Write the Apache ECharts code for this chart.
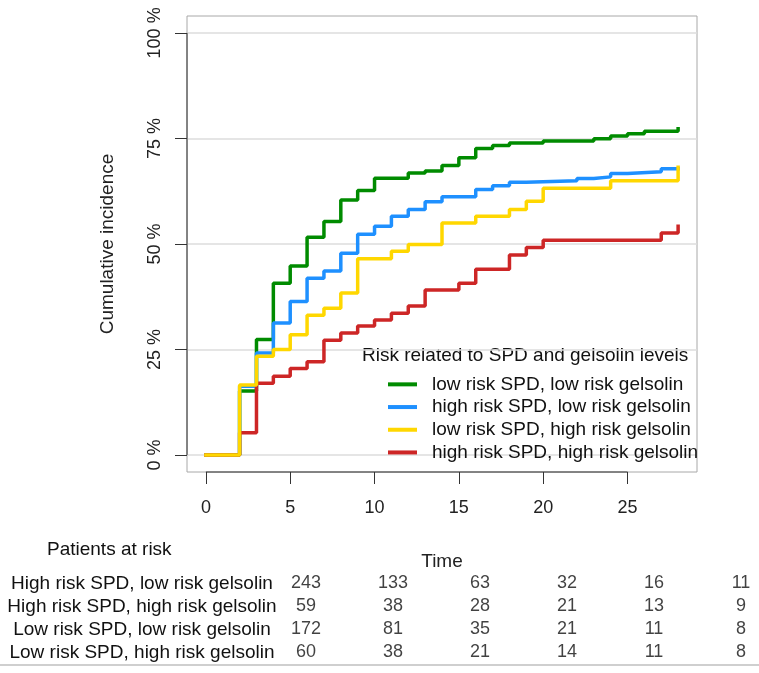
<!DOCTYPE html>
<html><head><meta charset="utf-8">
<script src="https://cdn.jsdelivr.net/npm/echarts@6/dist/echarts.min.js"></script>
<style>html,body{margin:0;padding:0;background:#fff}#c{width:759px;height:673px}</style>
</head><body><div id="c"></div>
<script>
// ---------- data ----------
const xTicks = [0, 5, 10, 15, 20, 25];
const yTicks = [0, 25, 50, 75, 100];
const xMin = -1.12, xMax = 29.12, yMin = -4, yMax = 104;

const seriesNames = [
  'low risk SPD, low risk gelsolin',
  'high risk SPD, low risk gelsolin',
  'low risk SPD, high risk gelsolin',
  'high risk SPD, high risk gelsolin'
];
const seriesColors = ['#008B00', '#1E90FF', '#FFD700', '#CD2626'];

const greenTimes  = [0, 2, 3, 4, 5, 6, 7, 8, 9, 10, 12, 13, 14, 15, 16, 17, 18, 20, 23, 24, 25, 26, 28];
const greenValues = [0, 15.2, 27.4, 40.7, 44.8, 51.6, 55.3, 60.4, 62.7, 65.6, 66.8, 67.3, 68.6, 70.4, 72.6, 73.3, 73.9, 74.4, 74.9, 75.6, 76.1, 76.7, 77.3];

const blueTimes  = [0, 2, 3, 4, 5, 6, 7, 8, 9, 10, 11, 12, 13, 14, 16, 17, 18, 19, 22, 23, 24, 25, 27, 28];
const blueValues = [0, 16.3, 24.2, 31.3, 36.4, 41.9, 43.6, 47.8, 52.3, 54.2, 56.6, 58.2, 60.0, 61.2, 62.9, 63.8, 64.6, 65.0, 65.5, 65.9, 66.7, 67.1, 67.8, 67.8];

const yellowTimes  = [0, 2, 3, 4, 5, 6, 7, 8, 9, 11, 12, 14, 16, 18, 19, 20, 24, 28];
const yellowValues = [0, 16.6, 23.4, 25.0, 28.5, 33.1, 34.8, 38.4, 46.5, 48.3, 49.9, 55.0, 56.6, 58.2, 60.1, 63.2, 65.0, 68.2];

const redTimes  = [0, 2, 3, 4, 5, 6, 7, 8, 9, 10, 11, 12, 13, 15, 16, 18, 19, 20, 27, 28];
const redValues = [0, 5.3, 17.0, 18.7, 20.5, 22.1, 27.2, 28.9, 30.6, 32.0, 33.6, 35.3, 39.1, 40.7, 44.0, 47.4, 49.2, 50.9, 52.6, 54.2];

const tableTitle = 'Patients at risk';
const legendTitle = 'Risk related to SPD and gelsolin levels';
const tableRows = [
  'High risk SPD, low risk gelsolin',
  'High risk SPD, high risk gelsolin',
  'Low risk SPD, low risk gelsolin',
  'Low risk SPD, high risk gelsolin'
];
const tableTimes = [0, 5, 10, 15, 20, 25];
const riskHighSPDLowGel  = [243, 133, 63, 32, 16, 11];
const riskHighSPDHighGel = [59, 38, 28, 21, 13, 9];
const riskLowSPDLowGel   = [172, 81, 35, 21, 11, 8];
const riskLowSPDHighGel  = [60, 38, 21, 14, 11, 8];

// ---------- build ----------
const FONT = 'Liberation Sans, Arial, Helvetica, sans-serif';
const zip = (t, v) => t.map((x, i) => [x, v[i]]);
const curveData = [
  zip(greenTimes, greenValues),
  zip(blueTimes, blueValues),
  zip(yellowTimes, yellowValues),
  zip(redTimes, redValues)
];
const curveZ = [3, 3, 5, 4];
const riskTable = [riskHighSPDLowGel, riskHighSPDHighGel, riskLowSPDLowGel, riskLowSPDHighGel];
const tableData = [];
riskTable.forEach((row, r) => row.forEach((n, c) => tableData.push([tableTimes[c], tableRows[r], n])));

const chart = echarts.init(document.getElementById('c'), null, {renderer: 'canvas'});

const curveSeries = seriesNames.map((name, i) => ({
  name: name,
  type: 'line',
  step: 'end',
  data: curveData[i],
  xAxisIndex: 0, yAxisIndex: 0,
  showSymbol: false, symbol: 'none',
  z: curveZ[i],
  lineStyle: {color: seriesColors[i], width: 3.5, cap: 'square'},
  itemStyle: {color: seriesColors[i]},
  silent: true,
  animation: false
}));

const option = {
  animation: false,
  textStyle: {fontFamily: FONT},
  grid: [
    {left: 187, top: 16, right: 62, bottom: 201, show: true, borderColor: '#A8A8A8', borderWidth: 1, backgroundColor: 'transparent'},
    {left: 306, top: 572, width: 435, height: 92, show: false}
  ],
  xAxis: [
    {
      type: 'value', gridIndex: 0, min: xMin, max: xMax, position: 'bottom',
      axisLine: {show: false, onZero: false},
      axisTick: {show: true, inside: false, length: 12, customValues: xTicks, lineStyle: {color: '#333', width: 1}},
      axisLabel: {customValues: xTicks, margin: 27, fontSize: 18, color: '#222', fontFamily: FONT},
      splitLine: {show: false},
      name: 'Time', nameLocation: 'middle', nameGap: 80,
      nameTextStyle: {fontSize: 19, color: '#222', fontFamily: FONT}
    },
    {type: 'value', gridIndex: 1, min: 0, max: 25, show: false}
  ],
  yAxis: [
    {
      type: 'value', gridIndex: 0, min: yMin, max: yMax, position: 'left',
      axisLine: {show: false, onZero: false},
      axisTick: {show: true, inside: false, length: 12, customValues: yTicks, lineStyle: {color: '#333', width: 1}},
      axisLabel: {customValues: yTicks, rotate: 90, margin: 23, fontSize: 18, color: '#222', fontFamily: FONT, formatter: '{value} %'},
      splitLine: {show: false},
      name: 'Cumulative incidence', nameLocation: 'middle', nameGap: 70,
      nameTextStyle: {fontSize: 19, color: '#222', fontFamily: FONT}
    },
    {
      type: 'category', gridIndex: 1, data: tableRows, inverse: true,
      axisLine: {show: false}, axisTick: {show: false}, splitLine: {show: false},
      axisLabel: {interval: 0, align: 'center', margin: 164, fontSize: 19, color: '#111', fontFamily: FONT}
    }
  ],
  legend: {
    data: seriesNames, orient: 'vertical', left: 388, top: 373, padding: 0, itemGap: 0,
    itemWidth: 29, itemHeight: 4, icon: 'rect', selectedMode: false,
    textStyle: {fontSize: 19, lineHeight: 22.7, color: '#111', fontFamily: FONT, padding: [0, 0, 0, 10]}
  },
  graphic: [
    {type: 'text', left: 362, top: 346, silent: true,
      style: {text: legendTitle, fontSize: 19, fill: '#111', fontFamily: FONT}},
    {type: 'text', left: 47, top: 540, silent: true,
      style: {text: tableTitle, fontSize: 19, fill: '#111', fontFamily: FONT}},
    {type: 'line', silent: true, shape: {x1: 0, y1: 665, x2: 759, y2: 665},
      style: {stroke: '#CFCFCF', lineWidth: 2}}
  ],
  series: [
    {
      name: 'xAxisLine', type: 'line', xAxisIndex: 0, yAxisIndex: 0,
      data: [[xTicks[0], yMin], [xTicks[xTicks.length - 1], yMin]],
      symbol: 'none', clip: false, silent: true, z: 6,
      lineStyle: {color: '#333', width: 1}
    },
    {
      name: 'yAxisLine', type: 'line', xAxisIndex: 0, yAxisIndex: 0,
      data: [[xMin, yTicks[0]], [xMin, yTicks[yTicks.length - 1]]],
      symbol: 'none', clip: false, silent: true, z: 6,
      lineStyle: {color: '#333', width: 1},
      markLine: {
        silent: true, symbol: ['none', 'none'], label: {show: false}, z: 1,
        lineStyle: {color: '#DCDCDC', type: 'solid', width: 1.5},
        data: yTicks.map(v => ({yAxis: v}))
      }
    },
    ...curveSeries,
    {
      name: 'riskTable', type: 'scatter', xAxisIndex: 1, yAxisIndex: 1,
      data: tableData, symbolSize: 1, itemStyle: {color: 'rgba(0,0,0,0)'}, silent: true,
      label: {show: true, position: 'inside', formatter: p => String(p.value[2]), fontSize: 18, color: '#111', fontFamily: FONT}
    }
  ]
};
chart.setOption(option);
</script>
</body></html>
